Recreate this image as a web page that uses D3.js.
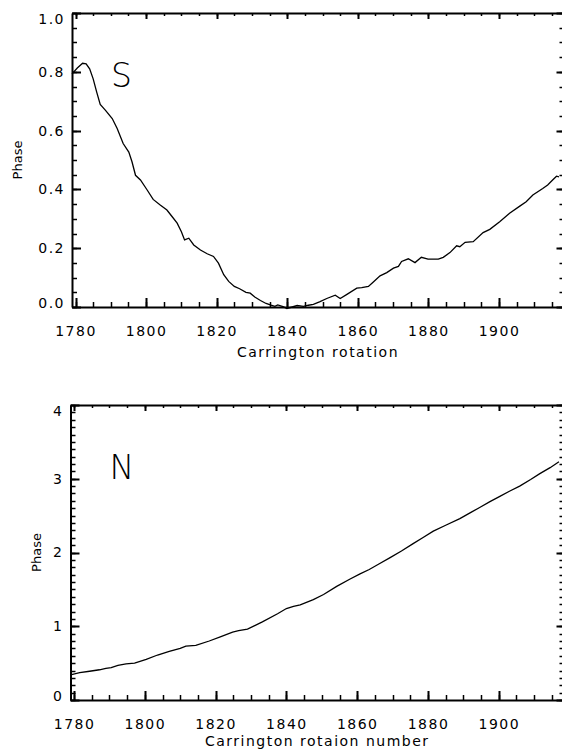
<html>
<head>
  <title>phase S / N</title>
  <script src="https://d3js.org/d3.v7.min.js"></script>
  <style>
    body { margin: 0; background: #fff; }
    text { font-family: "DejaVu Sans", "Open Sans", sans-serif; fill: #000; }
    .axis text { font-size: 14px; letter-spacing: 1.5px; font-weight: normal; }
    .axis path { stroke: #000; stroke-width: 2; }
    .tag { font-weight: 200; }
  </style>
</head>
<body>
<script>
  // south hemisphere phase vs Carrington rotation
  var sRot = [1779, 1780.5, 1782, 1783, 1784, 1785, 1786, 1787, 1788.5, 1790.4, 1791.8, 1793.5, 1795.1, 1796,
    1797, 1798.4, 1800.3, 1802, 1804, 1805.9, 1807.4, 1808.8, 1810, 1810.9, 1812.1, 1813.5, 1815.4, 1817.3,
    1819.1, 1820.5, 1822, 1823.4, 1825, 1826.5, 1828.3, 1829.5, 1830.8, 1832.4, 1834, 1835.4, 1836.5, 1837.3,
    1838.8, 1839.9, 1841.4, 1842.8, 1844.6, 1846, 1847.4, 1849.3, 1851.2, 1853.6, 1855, 1856.8, 1859.7, 1861.1,
    1863, 1864.4, 1866.3, 1868.2, 1870.1, 1871.5, 1872.4, 1874.3, 1876.2, 1878, 1879.9, 1882.8, 1884.2, 1886.1,
    1888, 1888.9, 1890.4, 1892.7, 1895.5, 1897.4, 1900.2, 1903, 1905.9, 1907.7, 1909.6, 1912.4, 1913.8, 1915.2,
    1916.3, 1917];
  var sPhase = [0.793, 0.813, 0.829, 0.827, 0.810, 0.776, 0.731, 0.689, 0.669, 0.641, 0.607, 0.556, 0.527, 0.494,
    0.448, 0.432, 0.398, 0.366, 0.347, 0.330, 0.307, 0.285, 0.256, 0.228, 0.234, 0.211, 0.194, 0.181,
    0.172, 0.149, 0.110, 0.087, 0.070, 0.062, 0.050, 0.047, 0.034, 0.022, 0.012, 0.006, 0.002, 0.007,
    0.001, -0.005, 0.000, 0.005, 0.002, 0.006, 0.009, 0.018, 0.029, 0.040, 0.029, 0.042, 0.064, 0.066,
    0.070, 0.085, 0.106, 0.117, 0.132, 0.138, 0.155, 0.164, 0.151, 0.169, 0.163, 0.163, 0.169, 0.185,
    0.208, 0.205, 0.220, 0.222, 0.253, 0.264, 0.290, 0.319, 0.343, 0.358, 0.381, 0.403, 0.415, 0.432,
    0.445, 0.443];

  // north hemisphere phase
  var nRot = [1779, 1781.6, 1784.4, 1787.2, 1789, 1790.5, 1792.4, 1794.7, 1797.1, 1800.4, 1803.6, 1806.9, 1810,
    1811.6, 1814.4, 1818.2, 1821.5, 1824.8, 1826.5, 1829, 1833.2, 1837.5, 1840, 1842, 1843.9, 1847.6, 1850.5,
    1854.2, 1858, 1860.8, 1863.4, 1866, 1869.3, 1872.5, 1875.8, 1878.5, 1881.5, 1885, 1889, 1892, 1894.6,
    1897.5, 1900.3, 1903, 1905.9, 1909, 1911.6, 1914.5, 1917];
  var nPhase = [0.34, 0.37, 0.39, 0.41, 0.43, 0.44, 0.47, 0.49, 0.50, 0.55, 0.61, 0.66, 0.70,
    0.73, 0.74, 0.80, 0.86, 0.92, 0.94, 0.96, 1.06, 1.17, 1.24, 1.27, 1.29, 1.36, 1.43,
    1.54, 1.64, 1.71, 1.77, 1.84, 1.93, 2.02, 2.12, 2.20, 2.29, 2.37, 2.46, 2.54, 2.61,
    2.69, 2.76, 2.83, 2.90, 2.99, 3.07, 3.15, 3.23];

  var xTicks = [1780, 1800, 1820, 1840, 1860, 1880, 1900];
  var sTicks = [0.0, 0.2, 0.4, 0.6, 0.8, 1.0];
  var nTicks = [0, 1, 2, 3, 4];

  var width = 562, height = 749;
  var svg = d3.select('body').append('svg')
      .attr('width', width).attr('height', height);

  // inward tick marks as one path per side, placed with the scale
  function tickPath(g, vals, pos, fixed, dir, len, w, vertical) {
    var d = vals.map(function(v) {
      var p = Math.round(pos(v)) + 0.5;
      return vertical ? 'M' + fixed + ',' + p + 'h' + (dir * len)
                      : 'M' + p + ',' + fixed + 'v' + (dir * len);
    }).join('');
    g.append('path').attr('d', d).attr('fill', 'none')
      .attr('stroke', '#000').attr('stroke-width', w);
  }

  function panel(cfg) {
    var R = 562.5;
    var x = d3.scaleLinear().domain([1779, 1918]).range([cfg.left, R]);
    var y = d3.scaleLinear().domain(cfg.ydom).range([cfg.bottom, cfg.top]);
    var g = svg.append('g');
    var xMinor = d3.range(1780, 1918, 5);
    var yMinor = d3.range(cfg.ydom[0], cfg.ydom[1] + 1e-9, cfg.ystep);

    // axis lines and labels
    g.append('g').attr('class', 'axis').attr('transform', 'translate(0,' + cfg.bottom + ')')
      .call(d3.axisBottom(x).tickValues(xTicks).tickSize(0).tickPadding(19).tickFormat(d3.format('d')));
    g.append('g').attr('class', 'axis').attr('transform', 'translate(0,' + cfg.top + ')')
      .call(d3.axisTop(x).tickValues([]).tickSize(0));
    var ly = g.append('g').attr('class', 'axis').attr('transform', 'translate(' + cfg.left + ',0)')
      .call(d3.axisLeft(y).tickValues(cfg.yticks).tickSize(0).tickPadding(7).tickFormat(cfg.yfmt));
    g.append('g').attr('class', 'axis').attr('transform', 'translate(' + R + ',0)')
      .call(d3.axisRight(y).tickValues([]).tickSize(0));

    // minor ticks
    tickPath(g, xMinor, x, cfg.bottom, -1, 5, 1.5, false);
    tickPath(g, xMinor, x, cfg.top, 1, 3, 1.5, false);
    tickPath(g, yMinor, y, cfg.left, 1, 5, 1.5, true);
    tickPath(g, yMinor, y, R, -1, 3, 1.5, true);
    // major ticks
    tickPath(g, xTicks, x, cfg.bottom, -1, 9, 2, false);
    tickPath(g, xTicks, x, cfg.top, 1, 6, 2, false);
    tickPath(g, cfg.yticks, y, cfg.left, 1, 9, 2, true);
    tickPath(g, cfg.yticks, y, R, -1, 6, 2, true);

    // IDL keeps the end labels inside the axis range
    var lab = ly.selectAll('.tick text');
    lab.filter((d, i) => i === 0).attr('y', -4);
    lab.filter((d, i) => i === cfg.yticks.length - 1).attr('y', 6);

    // the line
    var pts = d3.zip(cfg.xs, cfg.ys);
    g.append('path')
      .datum(pts)
      .attr('fill', 'none')
      .attr('stroke', '#000')
      .attr('stroke-width', 1.3)
      .attr('d', d3.line().x(d => x(d[0])).y(d => y(d[1])));

    g.append('text')
      .attr('x', (cfg.left + 562) / 2 + 1).attr('y', cfg.bottom + cfg.tdy)
      .attr('text-anchor', 'middle')
      .style('font-size', '14px').style('letter-spacing', '1.5px')
      .text(cfg.xtitle);

    g.append('text')
      .attr('transform', 'translate(' + cfg.ytx + ',' + ((cfg.top + cfg.bottom) / 2) + ') rotate(-90)')
      .attr('text-anchor', 'middle')
      .style('font-size', '13px')
      .text('Phase');

    g.append('text')
      .attr('class', 'tag')
      .attr('x', cfg.left + 39).attr('y', cfg.top + 74)
      .style('font-size', '33px')
      .text(cfg.tag);
  }

  panel({ left: 72, top: 13, bottom: 307, ydom: [0, 1], ystep: 0.05, yticks: sTicks,
    yfmt: d3.format('.1f'), xs: sRot, ys: sPhase, xtitle: 'Carrington rotation', ytx: 22, tag: 'S', tdy: 50 });
  panel({ left: 70.5, top: 405, bottom: 700, ydom: [0, 4], ystep: 0.1, yticks: nTicks,
    yfmt: d3.format('d'), xs: nRot, ys: nPhase, xtitle: 'Carrington rotaion number', ytx: 41, tag: 'N', tdy: 46 });
</script>
</body>
</html>
